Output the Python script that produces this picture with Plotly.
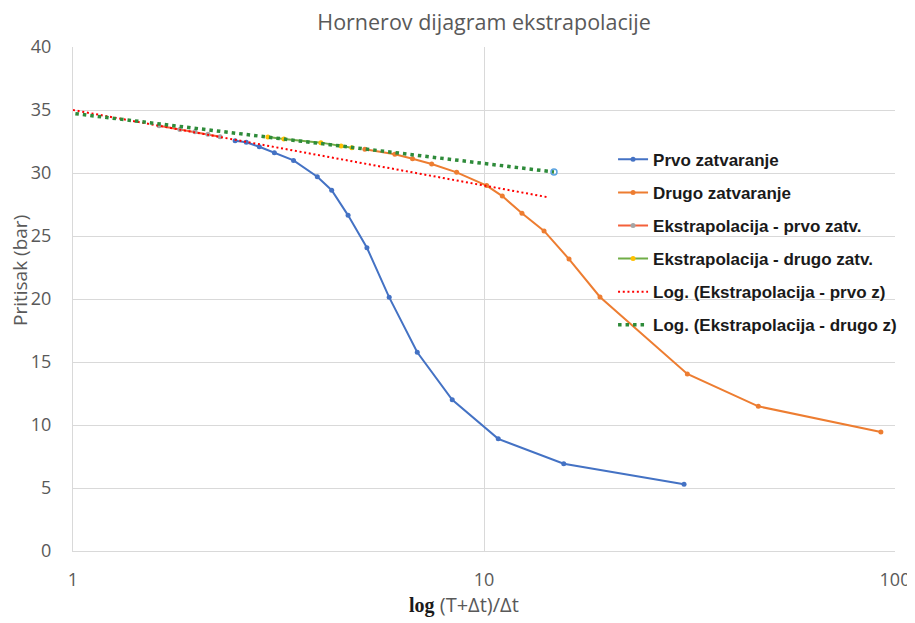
import plotly.graph_objects as go

# ---- data ----
prvo_x = [2.48, 2.64, 2.84, 3.09, 3.44, 3.93, 4.26, 4.67, 5.19, 5.88, 6.88, 8.37, 10.83, 15.63, 30.67]
prvo_y = [32.56, 32.44, 32.08, 31.6, 31.0, 29.7, 28.63, 26.64, 24.07, 20.13, 15.77, 12.0, 8.9, 6.93, 5.29]

drugo_x = [5.13, 6.07, 6.70, 7.46, 8.58, 10.15, 11.08, 12.37, 14.0, 16.1, 19.15, 31.24, 46.5, 92.4]
drugo_y = [31.88, 31.48, 31.13, 30.71, 30.05, 29.0, 28.17, 26.8, 25.4, 23.17, 20.16, 14.05, 11.48, 9.44]

ekst_prvo_x = [1.62, 1.82, 1.98, 2.13, 2.28]
ekst_prvo_y = [33.75, 33.45, 33.28, 33.07, 32.88]

ekst_drugo_x = [2.98, 3.26, 4.01, 4.49, 4.77]
ekst_drugo_y = [32.86, 32.70, 32.41, 32.14, 32.0]

trend_prvo_x = [1.0, 14.34]
trend_prvo_y = [35.0, 28.07]

trend_drugo_x = [0.972, 14.8]
trend_drugo_y = [34.78, 30.08]

x_ticks = [1, 10, 100]
y_ticks = [0, 5, 10, 15, 20, 25, 30, 35, 40]

# ---- figure ----
fig = go.Figure()

fig.add_trace(go.Scatter(x=prvo_x, y=prvo_y, mode="lines+markers", name="Prvo zatvaranje",
                         legendgroup="a",
                         line=dict(color="#4472C4", width=2), marker=dict(size=5, color="#4472C4")))
fig.add_trace(go.Scatter(x=drugo_x, y=drugo_y, mode="lines+markers", name="Drugo zatvaranje",
                         legendgroup="b",
                         line=dict(color="#ED7D31", width=2), marker=dict(size=5, color="#ED7D31")))
fig.add_trace(go.Scatter(x=ekst_prvo_x, y=ekst_prvo_y, mode="lines+markers", name="Ekstrapolacija - prvo zatv.",
                         legendgroup="c",
                         line=dict(color="#F4603A", width=2), marker=dict(size=5, color="#A5A5A5")))
fig.add_trace(go.Scatter(x=ekst_drugo_x, y=ekst_drugo_y, mode="lines+markers", name="Ekstrapolacija - drugo zatv.",
                         legendgroup="d",
                         line=dict(color="#70AD47", width=2), marker=dict(size=5, color="#FFC000")))
fig.add_trace(go.Scatter(x=trend_prvo_x, y=trend_prvo_y, mode="lines", name="Log. (Ekstrapolacija - prvo z)",
                         legendgroup="e",
                         line=dict(color="#FF0000", width=2, dash="2px,2.7px")))
fig.add_trace(go.Scatter(x=trend_drugo_x, y=trend_drugo_y, mode="lines", name="Log. (Ekstrapolacija - drugo z)",
                         legendgroup="f",
                         line=dict(color="#2E8B3A", width=3.5, dash="3.5px,4px")))
fig.add_trace(go.Scatter(x=trend_drugo_x, y=trend_drugo_y, mode="markers", showlegend=False,
                         cliponaxis=False, hoverinfo="skip",
                         marker=dict(size=6, symbol="circle-open", color="#5BA3E0", line=dict(width=1.5))))

grey = "#595959"
fig.update_layout(
    width=915, height=623,
    paper_bgcolor="white", plot_bgcolor="white",
    margin=dict(l=65, r=28, t=39, b=80),
    title=dict(text="Hornerov dijagram ekstrapolacije", x=0.5, xanchor="center",
               xref="paper", y=0.977, yanchor="middle",
               font=dict(family="Open Sans", size=21.5, color=grey)),
    font=dict(family="Open Sans", color=grey),
    legend=dict(x=0.657, y=0.812, xanchor="left", yanchor="top",
                bgcolor="rgba(0,0,0,0)", tracegroupgap=8,
                font=dict(family="Liberation Sans", size=17, color="#1a1a1a", weight="bold"),
                itemwidth=30),
    showlegend=True,
    annotations=[
        dict(text="Pritisak (bar)", textangle=-90, xref="paper", yref="paper",
             x=-0.0645, y=0.5575, xanchor="center", yanchor="middle", showarrow=False,
             font=dict(family="Open Sans", size=19, color=grey)),
        dict(text="<span style='font-family:Liberation Serif;color:#1a1a1a'><b>log</b></span> (T+Δt)/Δt",
             xref="paper", yref="paper", x=0.476, y=-0.107, xanchor="center", yanchor="middle",
             showarrow=False, font=dict(family="Open Sans", size=20, color=grey)),
    ],
)

fig.update_xaxes(type="log", range=[0, 2], tickvals=x_ticks, ticktext=[str(v) for v in x_ticks],
                 showgrid=True, gridcolor="#D9D9D9", gridwidth=1,
                 showline=True, linecolor="#D9D9D9", linewidth=1,
                 ticks="", ticklabelstandoff=12, tickfont=dict(size=18, color=grey),
                 automargin=False, zeroline=False)
fig.update_yaxes(range=[0, 40], tickvals=y_ticks, showgrid=True, gridcolor="#D9D9D9", gridwidth=1,
                 showline=True, linecolor="#D9D9D9", linewidth=1,
                 ticks="", ticklabelstandoff=17, tickfont=dict(size=18, color=grey),
                 automargin=False, zeroline=False)

fig.write_html("out.html")
